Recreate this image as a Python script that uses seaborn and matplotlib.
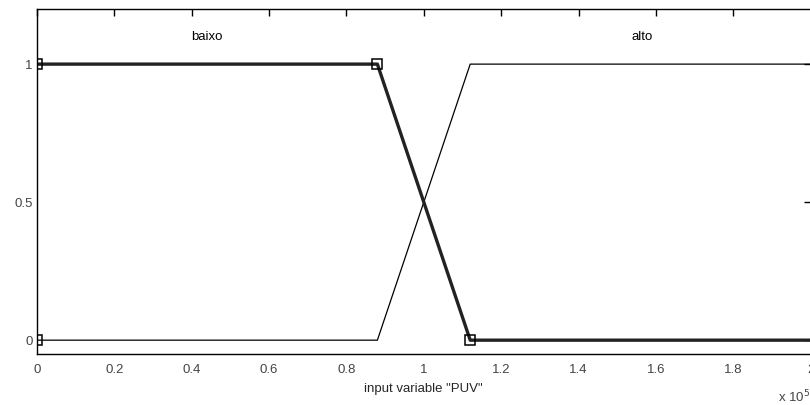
import pandas as pd
import seaborn as sns
import matplotlib
matplotlib.use('Agg')
import matplotlib.pyplot as plt

# membership functions for input variable "PUV" (x in units of 10^5)
baixo_x = [0, 0.88, 1.12, 2.0]
baixo_y = [1, 1, 0, 0]
alto_x = [0, 0.88, 1.12, 2.0]
alto_y = [0, 0, 1, 1]

# vertex markers of the selected function
marker_x = [0, 0, 0.88, 1.12]
marker_y = [0, 1, 1, 0]

labels = ['baixo', 'alto']
label_x = [0.44, 1.565]
label_y = 1.1

x_ticks = [0, 0.2, 0.4, 0.6, 0.8, 1, 1.2, 1.4, 1.6, 1.8, 2]
y_ticks = [0, 0.5, 1]

sns.set_style('white')
plt.rcParams['font.family'] = ['Liberation Sans', 'DejaVu Sans']

fig = plt.figure(figsize=(8.1, 4.05), dpi=100)
ax = fig.add_axes([0.0457, 0.126, 0.955, 0.852])

baixo_df = pd.DataFrame({'x': baixo_x, 'y': baixo_y})
alto_df = pd.DataFrame({'x': alto_x, 'y': alto_y})
sns.lineplot(data=alto_df, x='x', y='y', color='black', linewidth=0.9, ax=ax)
sns.lineplot(data=baixo_df, x='x', y='y', color='#222222', linewidth=2.4, ax=ax)
ax.plot(marker_x, marker_y, linestyle='none', marker='s', markersize=7.5,
        markerfacecolor='none', markeredgecolor='black', markeredgewidth=1.1)

for name, lx in zip(labels, label_x):
    ax.text(lx, label_y, name, ha='center', va='center', fontsize=9.5, color='black')

ax.set_xlim(0, 2)
ax.set_ylim(-0.05, 1.2)
ax.set_xticks(x_ticks)
ax.set_xticklabels(['0', '0.2', '0.4', '0.6', '0.8', '1', '1.2', '1.4', '1.6', '1.8', '2'])
ax.set_yticks(y_ticks)
ax.set_yticklabels(['0', '0.5', '1'])
ax.tick_params(direction='in', length=5, width=1, top=True, right=True,
               labelsize=9.5, labelcolor='#444444', color='black')
ax.tick_params(axis='x', pad=7)
ax.tick_params(axis='y', pad=3)
for s in ax.spines.values():
    s.set_color('black')
    s.set_linewidth(1)

ax.set_xlabel('input variable "PUV"', fontsize=9.5, labelpad=5)
ax.set_ylabel('')
ax.text(0.999, -0.125, 'x 10$^5$', transform=ax.transAxes, ha='right', va='center',
        fontsize=9.5, color='#444444')

fig.savefig('out.png', dpi=100)
